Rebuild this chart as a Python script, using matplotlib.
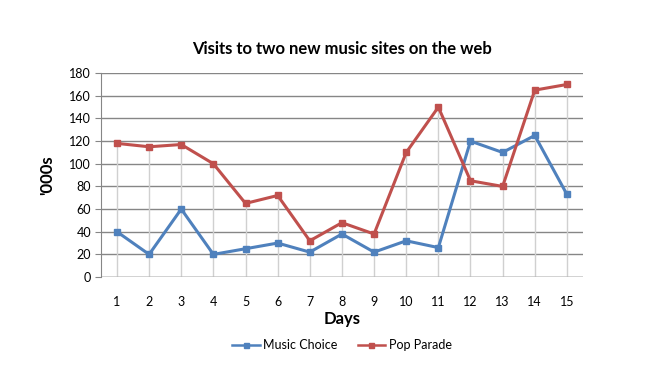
import matplotlib
matplotlib.use("Agg")
from matplotlib import pyplot as plt
import numpy as np

days = list(range(1, 16))
music_choice = [40, 20, 60, 20, 25, 30, 22, 38, 22, 32, 26, 120, 110, 125, 73]
pop_parade = [118, 115, 117, 100, 65, 72, 32, 48, 38, 110, 150, 85, 80, 165, 170]
yticks = list(range(0, 181, 20))

plt.rcParams['font.family'] = ['Lato', 'DejaVu Sans']

fig = plt.figure(figsize=(6.51, 3.79), dpi=100)
ax = fig.add_axes([0.155, 0.269, 0.7405, 0.538])

# drop lines from the higher point down to zero
tops = np.maximum(music_choice, pop_parade)
ax.vlines(days, 0, tops, color='#d0d0d0', lw=1, zorder=1)

ax.plot(days, music_choice, color='#4F81BD', lw=2.2, marker='s', ms=4.5,
        label='Music Choice', zorder=3)
ax.plot(days, pop_parade, color='#C0504D', lw=2.2, marker='s', ms=4.5,
        label='Pop Parade', zorder=3)

ax.set_xlim(0.5, 15.5)
ax.set_ylim(0, 180)
ax.set_xticks(days)
ax.set_yticks(yticks)
ax.yaxis.grid(True, color='#868686', lw=1)
ax.set_axisbelow(True)
for s in ['top', 'right', 'bottom']:
    ax.spines[s].set_visible(False)
ax.spines['left'].set_color('#868686')
ax.axhline(0, color='#868686', lw=1, zorder=2)
ax.tick_params(axis='x', length=0, pad=14, labelsize=9)
ax.tick_params(axis='y', length=4, color='#868686', pad=3, labelsize=9)

ax.set_title('Visits to two new music sites on the web', fontsize=12,
             fontweight='bold', pad=14)
ax.set_xlabel('Days', fontsize=12, fontweight='bold', labelpad=2)
ax.set_ylabel("'000s", fontsize=12, fontweight='bold', labelpad=10)

leg = ax.legend(loc='upper center', bbox_to_anchor=(0.5, -0.25), ncol=2,
                frameon=False, fontsize=9, handlelength=2.2, handletextpad=0.3,
                columnspacing=1.6, markerscale=0.8)
for h in leg.get_lines():
    h.set_linewidth(1.8)

fig.savefig('out.png', dpi=100)
